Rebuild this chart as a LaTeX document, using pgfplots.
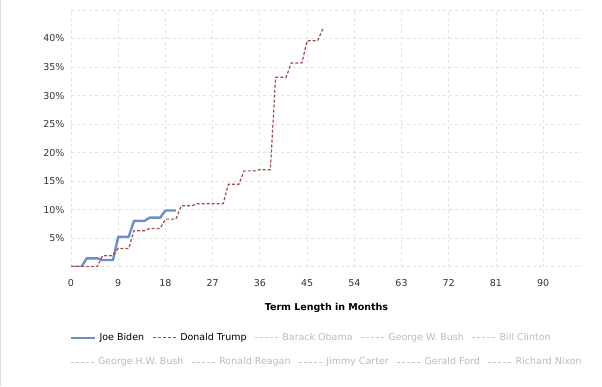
\documentclass[border=0pt]{standalone}
\usepackage{pgfplots}
\pgfplotsset{compat=1.18}
\usepackage{fontspec}
\setmainfont{DejaVu Sans}
\definecolor{biden}{HTML}{6B8FC9}
\definecolor{trump}{HTML}{A54A45}
\definecolor{gridc}{HTML}{E2E2E2}
\definecolor{hid}{HTML}{C8C8C8}
\definecolor{hidtext}{HTML}{BBBBBB}
\definecolor{tickc}{HTML}{333333}
\newcommand{\fs}{\fontsize{9.5}{11}\selectfont}
\pgfplotsset{
  legrow/.style={
    legend columns=-1,
    legend style={draw=none, fill=none, inner sep=0pt, font=\fs,
      /tikz/every even column/.append style={column sep=5pt},
      nodes={inner xsep=3pt}},
    legend cell align=left,
    legend image code/.code={\draw[##1] (0pt,0pt) -- (24pt,0pt);},
  }
}
\begin{document}
\begin{tikzpicture}
\path[use as bounding box] (0pt,0pt) rectangle (602pt,386pt);
\draw[gray!25, line width=1pt] (0.5pt,0pt) -- (0.5pt,386pt);
\begin{axis}[
  at={(71pt,119.3pt)}, anchor=south west,
  scale only axis, width=511pt, height=256.7pt,
  xmin=0, xmax=97.4, ymin=0, ymax=45,
  xtick={0,9,...,90}, ytick={0,5,...,45},
  yticklabels={,5\%,10\%,15\%,20\%,25\%,30\%,35\%,40\%,},
  axis line style={draw=none},
  major tick length=0pt,
  grid=major,
  major grid style={gridc, line width=0.8pt, dash pattern=on 3pt off 3pt},
  /pgf/number format/assume math mode=true,
  tick label style={font=\fs, text=tickc},
  xticklabel style={yshift=-9pt},
  yticklabel style={xshift=-3pt},
  xlabel={\textbf{Term Length in Months}},
  every axis x label/.style={at={(axis description cs:0.5,0)}, anchor=center, yshift=-41pt, font=\fs},
  legrow,
  legend style={at={(axis description cs:0,0)}, anchor=west, yshift=-71pt, xshift=-1pt},
]
\addplot[biden, line width=2.4pt, line join=round] coordinates {
(0,0) (1,0) (2,0) (3,1.47) (4,1.47) (5,1.47) (6,1.17) (7,1.17) (8,1.17)
(9,5.24) (10,5.24) (11,5.24) (12,8.04) (13,8.04) (14,8.04) (15,8.6) (16,8.6) (17,8.6)
(18,9.86) (19,9.86) (20,9.86)
};
\addlegendentry{Joe Biden}
\addplot[trump, line width=1.2pt, dash pattern=on 3pt off 2pt] coordinates {
(0,0) (1,0) (2,0) (3,0) (4,0) (5,0) (6,1.92) (7,1.92) (8,1.92)
(9,3.2) (10,3.2) (11,3.2) (12,6.3) (13,6.3) (14,6.3) (15,6.7) (16,6.7) (17,6.7)
(18,8.34) (19,8.34) (20,8.34) (21,10.67) (22,10.67) (23,10.67)
(24,11.05) (25,11.05) (26,11.05) (27,11.05) (28,11.05) (29,11.05)
(30,14.46) (31,14.46) (32,14.46) (33,16.8) (34,16.8) (35,16.8)
(36,17.0) (37,17.0) (38,17.0) (39,33.2) (40,33.2) (41,33.2)
(42,35.7) (43,35.7) (44,35.7) (45,39.6) (46,39.6) (47,39.6) (48,41.7)
};
\addlegendentry{Donald Trump}
\addlegendimage{hid, line width=0.8pt, dash pattern=on 3pt off 2pt}
\addlegendentry[text=hidtext]{Barack Obama}
\addlegendimage{hid, line width=0.8pt, dash pattern=on 3pt off 2pt}
\addlegendentry[text=hidtext]{George W. Bush}
\addlegendimage{hid, line width=0.8pt, dash pattern=on 3pt off 2pt}
\addlegendentry[text=hidtext]{Bill Clinton}
\end{axis}
\begin{axis}[
  at={(71pt,119.3pt)}, anchor=south west,
  scale only axis, width=511pt, height=256.7pt,
  xmin=0, xmax=97.4, ymin=0, ymax=45,
  hide axis,
  legrow,
  legend style={at={(axis description cs:0,0)}, anchor=west, yshift=-95.3pt, xshift=-1pt},
]
\addlegendimage{hid, line width=0.8pt, dash pattern=on 3pt off 2pt}
\addlegendentry[text=hidtext]{George H.W. Bush}
\addlegendimage{hid, line width=0.8pt, dash pattern=on 3pt off 2pt}
\addlegendentry[text=hidtext]{Ronald Reagan}
\addlegendimage{hid, line width=0.8pt, dash pattern=on 3pt off 2pt}
\addlegendentry[text=hidtext]{Jimmy Carter}
\addlegendimage{hid, line width=0.8pt, dash pattern=on 3pt off 2pt}
\addlegendentry[text=hidtext]{Gerald Ford}
\addlegendimage{hid, line width=0.8pt, dash pattern=on 3pt off 2pt}
\addlegendentry[text=hidtext]{Richard Nixon}
\end{axis}
\end{tikzpicture}
\end{document}
